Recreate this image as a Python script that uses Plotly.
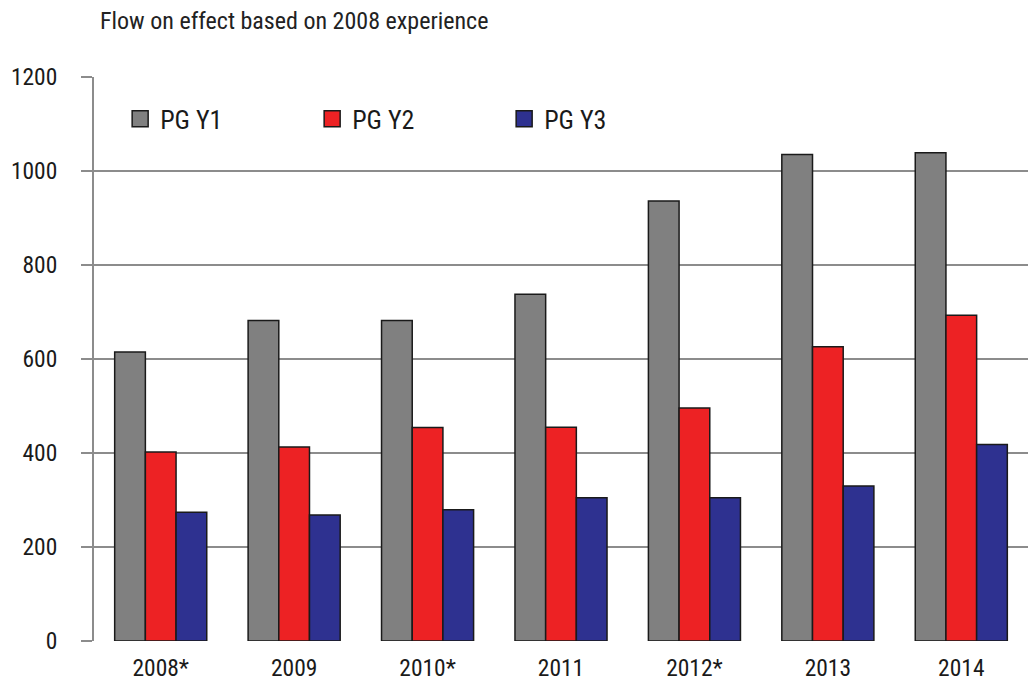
import plotly.graph_objects as go

categories = ["2008*", "2009", "2010*", "2011", "2012*", "2013", "2014"]
pg_y1 = [615, 682, 682, 738, 936, 1035, 1039]
pg_y2 = [402, 413, 454, 455, 496, 626, 693]
pg_y3 = [274, 268, 279, 305, 305, 330, 418]
series_names = ["PG Y1", "PG Y2", "PG Y3"]
series_colors = ["#808080", "#ED2224", "#2E3190"]
y_ticks = [0, 200, 400, 600, 800, 1000, 1200]

FONT = "Liberation Sans Narrow, Arial Narrow, Roboto Condensed, sans-serif"

fig = go.Figure()
for name, vals, col in zip(series_names, [pg_y1, pg_y2, pg_y3], series_colors):
    fig.add_trace(go.Bar(
        x=categories, y=vals, name=name, marker_color=col,
        marker_line=dict(color="#1a1a1a", width=1.5), showlegend=False,
    ))
for name, col in zip(series_names, series_colors):
    fig.add_trace(go.Scatter(
        x=[None], y=[None], mode="markers", name=name,
        marker=dict(symbol="square", size=16, color=col,
                    line=dict(color="#1a1a1a", width=1.5)),
    ))

fig.update_layout(
    width=1028, height=689,
    margin=dict(l=94, r=0, t=77, b=48, autoexpand=False),
    paper_bgcolor="white", plot_bgcolor="white",
    font=dict(family=FONT, size=22, color="#1a1a1a"),
    barmode="group", bargap=0.31, bargroupgap=0,
    title=dict(text="Flow on effect based on 2008 experience",
               x=100/1028, xanchor="left", xref="container",
               y=1-21/689, yanchor="middle", yref="container",
               font=dict(family=FONT, size=24, color="#222222")),
    legend=dict(orientation="h", x=0.028, y=0.926, xanchor="left", yanchor="middle",
                entrywidth=147, entrywidthmode="pixels",
                font=dict(family=FONT, size=26, color="#1a1a1a"),
                bgcolor="rgba(0,0,0,0)"),
)
fig.update_xaxes(showgrid=False, showline=False, ticks="", ticklabelstandoff=10,
                 tickfont=dict(family=FONT, size=23.5))
fig.update_yaxes(range=[0, 1200], tickvals=y_ticks, showgrid=True,
                 gridcolor="#8c8c8c", gridwidth=2, showline=True,
                 linecolor="#8c8c8c", linewidth=2, ticks="outside",
                 ticklen=11, tickcolor="#8c8c8c", tickwidth=2,
                 ticklabelstandoff=19, zeroline=False,
                 tickfont=dict(family=FONT, size=23.5))

fig.write_html("out.html", config={"displayModeBar": False},
               post_script="document.body.style.margin='0';")
